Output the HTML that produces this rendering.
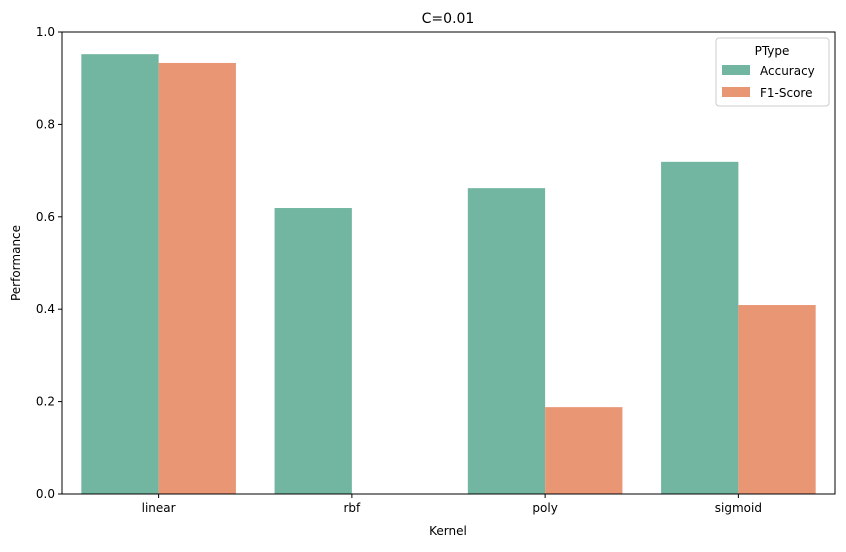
<!DOCTYPE html>
<html><head><meta charset="utf-8"><style>
body{margin:0;background:#fff;font-family:"Liberation Sans","DejaVu Sans",sans-serif;}
svg text{font-family:"DejaVu Sans","Liberation Sans",sans-serif;fill:#000;}
</style></head><body>
<svg id="chart" width="846" height="547">
<text x="448" y="23" font-size="14" text-anchor="middle">C=0.01</text>
<g id="bars"></g>
<g id="axes"></g>
<text x="448" y="535" font-size="12" text-anchor="middle">Kernel</text>
<text transform="translate(20,263) rotate(-90)" font-size="12" text-anchor="middle">Performance</text>
<g>
<rect x="716" y="38" width="113" height="68" rx="3" fill="#fff" stroke="#ccc"/>
<text x="772" y="55" font-size="12" text-anchor="middle">PType</text>
<rect x="722" y="65" width="28" height="10" fill="#72b6a1"/>
<text x="760" y="75" font-size="12">Accuracy</text>
<rect x="722" y="87" width="28" height="10" fill="#e99675"/>
<text x="760" y="97" font-size="12">F1-Score</text>
</g>
</svg>
<script>
const categories=["linear","rbf","poly","sigmoid"];
const accuracy=[0.952,0.619,0.662,0.719];
const f1score=[0.933,0.0,0.188,0.409];
const yTicks=[0.0,0.2,0.4,0.6,0.8,1.0];
const tickLabels=["0.0","0.2","0.4","0.6","0.8","1.0"];
const NS="http://www.w3.org/2000/svg";
const L=62,R=835,T=32,B=494;
const bw=(R-L)/categories.length;
const y=v=>B-v*(B-T);
const xc=i=>L+bw*(i+0.5);
const bars=document.getElementById('bars'),axes=document.getElementById('axes');
function mk(t,a,p){const e=document.createElementNS(NS,t);for(const k in a)e.setAttribute(k,a[k]);p.appendChild(e);return e;}
categories.forEach((c,i)=>{
 const w=bw*0.4;
 let r=mk('rect',{x:xc(i)-w,y:y(accuracy[i]),width:w,height:B-y(accuracy[i]),fill:'#72b6a1'},bars);
 
 
 r=mk('rect',{x:xc(i),y:y(f1score[i]),width:w,height:B-y(f1score[i]),fill:'#e99675'},bars);
 
 
 mk('line',{x1:xc(i),x2:xc(i),y1:B,y2:B+4,stroke:'#000'},axes);
 const t=mk('text',{x:xc(i),y:B+18,'font-size':12,'text-anchor':'middle'},axes);
 t.textContent=c;
 
 
});
yTicks.forEach((v,i)=>{
 mk('line',{x1:L-4,x2:L,y1:y(v),y2:y(v),stroke:'#000'},axes);
 const t=mk('text',{x:L-7,y:y(v)+4,'font-size':12,'text-anchor':'end'},axes);
 t.textContent=tickLabels[i];
 
 
});
mk('rect',{x:L,y:T,width:R-L,height:B-T,fill:'none',stroke:'#000','stroke-width':1},axes);
</script>
</body></html>
